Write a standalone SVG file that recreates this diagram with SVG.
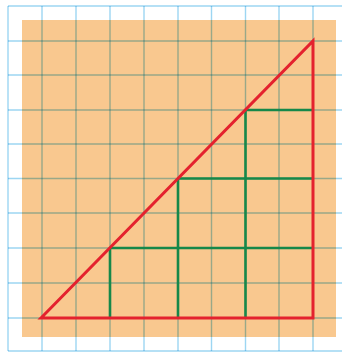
<svg xmlns="http://www.w3.org/2000/svg" width="342" height="354" viewBox="0 0 342 354">
<style>
.grid line{stroke:#9dd6f2;stroke-width:1.4;mix-blend-mode:multiply}
.red{stroke:#e4222e;stroke-width:3;fill:none;stroke-linejoin:miter}
.green line{stroke:#16884a;stroke-width:2.6}
</style>
<rect width="342" height="354" fill="#ffffff"/>
<rect id="board" x="22" y="20" width="314" height="317" fill="#f9c88f"/>
<g id="grid" class="grid">
<line x1="8" y1="6" x2="8" y2="351"/>
<line x1="42" y1="6" x2="42" y2="351"/>
<line x1="76" y1="6" x2="76" y2="351"/>
<line x1="110" y1="6" x2="110" y2="351"/>
<line x1="144" y1="6" x2="144" y2="351"/>
<line x1="178" y1="6" x2="178" y2="351"/>
<line x1="211.5" y1="6" x2="211.5" y2="351"/>
<line x1="245.5" y1="6" x2="245.5" y2="351"/>
<line x1="279" y1="6" x2="279" y2="351"/>
<line x1="313" y1="6" x2="313" y2="351"/>
<line x1="8" y1="6" x2="342" y2="6"/>
<line x1="8" y1="41" x2="342" y2="41"/>
<line x1="8" y1="75" x2="342" y2="75"/>
<line x1="8" y1="110" x2="342" y2="110"/>
<line x1="8" y1="144" x2="342" y2="144"/>
<line x1="8" y1="178.5" x2="342" y2="178.5"/>
<line x1="8" y1="213" x2="342" y2="213"/>
<line x1="8" y1="248" x2="342" y2="248"/>
<line x1="8" y1="283" x2="342" y2="283"/>
<line x1="8" y1="318" x2="342" y2="318"/>
<line x1="8" y1="351" x2="342" y2="351"/>
</g>
<g id="squares" class="green">
<line x1="245.5" y1="110" x2="313" y2="110"/>
<line x1="245.5" y1="110" x2="245.5" y2="318"/>
<line x1="178" y1="178.5" x2="313" y2="178.5"/>
<line x1="178" y1="178.5" x2="178" y2="318"/>
<line x1="110" y1="248" x2="313" y2="248"/>
<line x1="110" y1="248" x2="110" y2="318"/>
</g>
<g id="triangle">
<polygon class="red" points="41,318 313,41 313,318"/>
</g>
</svg>
